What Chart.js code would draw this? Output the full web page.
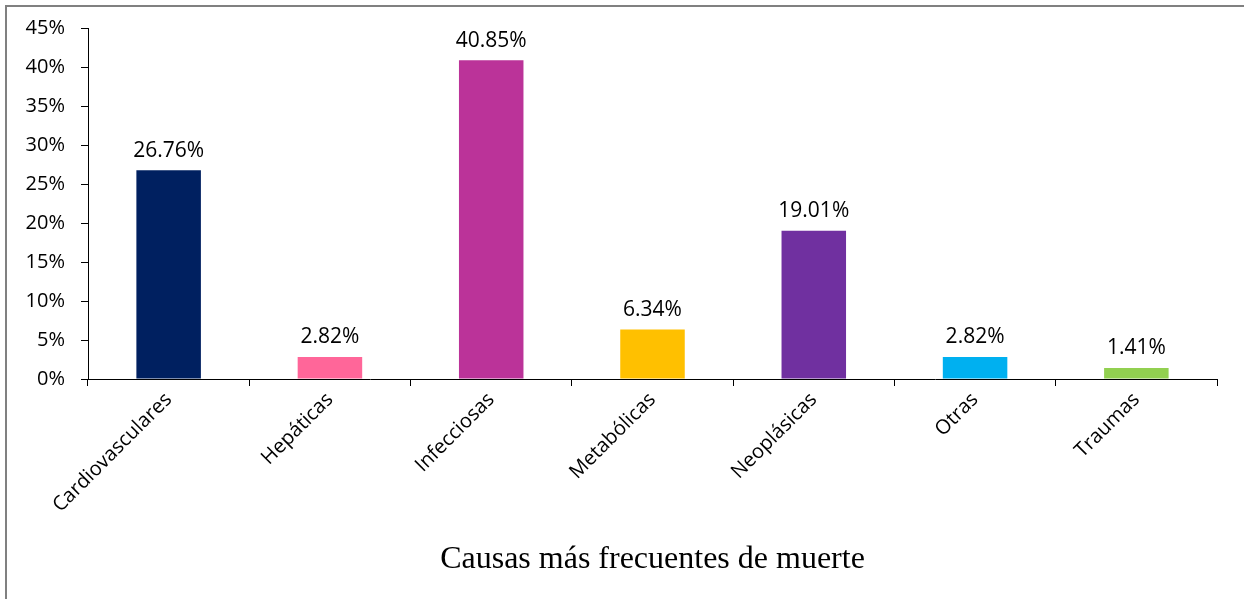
<!DOCTYPE html>
<html>
<head>
<meta charset="utf-8">
<script src="https://cdn.jsdelivr.net/npm/chart.js@4"></script>
<style>
  body { margin: 0; background: #fff; }
  #wrap { position: relative; width: 1244px; height: 599px; }
  #borde { position: absolute; left: 5px; top: 5px; right: 0; bottom: 0;
           border-left: 2px solid #808080; border-top: 2px solid #808080; }
</style>
</head>
<body>
<div id="wrap">
  <canvas id="graficoCausas" width="1244" height="599"></canvas>
  <div id="borde"></div>
</div>
<script>
const causas = ["Cardiovasculares", "Hepáticas", "Infecciosas", "Metabólicas", "Neoplásicas", "Otras", "Traumas"];
const porcentajes = [26.76, 2.82, 40.85, 6.34, 19.01, 2.82, 1.41];
const colores = ["#002060", "#FF6699", "#BB3399", "#FFC000", "#7030A0", "#00B0F0", "#92D050"];
const tituloX = "Causas más frecuentes de muerte";

// etiquetas encima de cada barra
const etiquetas = {
  id: "etiquetas",
  afterDatasetsDraw(chart) {
    const ctx = chart.ctx;
    const meta = chart.getDatasetMeta(0);
    ctx.save();
    ctx.font = "21px 'Open Sans'";
    ctx.fillStyle = "#000";
    ctx.textAlign = "center";
    ctx.textBaseline = "bottom";
    meta.data.forEach((bar, i) => {
      ctx.fillText(porcentajes[i].toFixed(2) + "%", bar.x, bar.y - 9);
    });
    ctx.restore();
  }
};

const ctx = document.getElementById("graficoCausas").getContext("2d");
new Chart(ctx, {
  type: "bar",
  data: {
    labels: causas,
    datasets: [{
      data: porcentajes,
      backgroundColor: colores,
      categoryPercentage: 1,
      barPercentage: 0.4
    }]
  },
  plugins: [etiquetas],
  options: {
    responsive: false,
    animation: false,
    layout: { padding: { left: 0, top: 28, right: 27, bottom: 0 } },
    plugins: {
      legend: { display: false },
      tooltip: { enabled: false }
    },
    scales: {
      x: {
        afterFit: s => { s.height = 220; },
        grid: {
          offset: true,
          drawOnChartArea: false,
          tickLength: 7,
          color: "#000"
        },
        border: { color: "#000", width: 1 },
        ticks: {
          color: "#000",
          font: { family: "'Open Sans'", size: 20 },
          minRotation: 45,
          maxRotation: 45,
          padding: 2
        },
        title: {
          display: true,
          text: tituloX,
          color: "#000",
          font: { family: "'Liberation Serif'", size: 32 },
          padding: { top: 0, bottom: 20 }
        }
      },
      y: {
        min: 0,
        max: 45,
        afterFit: s => { s.width = 88; },
        grid: {
          drawOnChartArea: false,
          tickLength: 7,
          color: "#000"
        },
        border: { color: "#000", width: 1 },
        ticks: {
          stepSize: 5,
          color: "#000",
          padding: 16,
          font: { family: "'Open Sans'", size: 20 },
          callback: v => v + "%"
        }
      }
    }
  }
});
</script>
</body>
</html>
